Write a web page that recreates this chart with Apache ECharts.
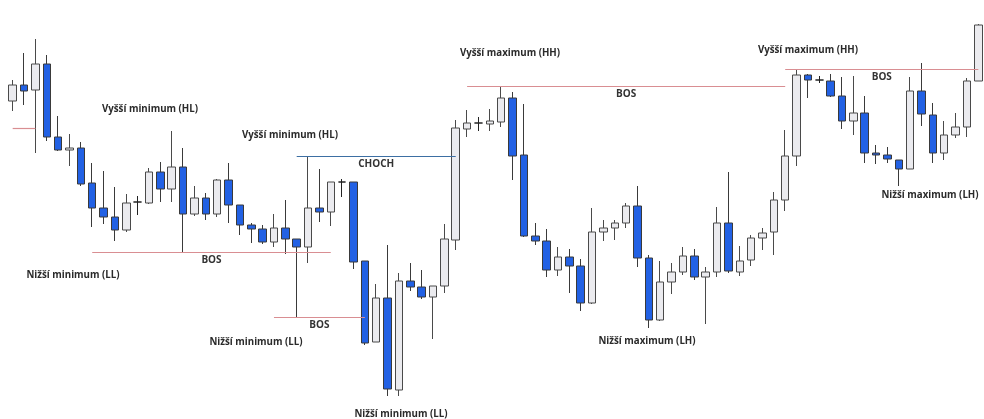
<!DOCTYPE html>
<html>
<head>
<meta charset="utf-8">
<title>Struktura trhu</title>
<script src="https://cdn.jsdelivr.net/npm/echarts@6/dist/echarts.min.js"></script>
<style>
  html, body { margin: 0; padding: 0; background: #fff; }
  #chart { width: 984px; height: 419px; }
</style>
</head>
<body>
<div id="chart"></div>
<script>
// svicky: open / close / low / high
const opens = [318, 334, 329, 355, 282, 269, 271, 236, 211, 202, 189, 217, 216, 247, 230, 252, 205, 221, 205, 239,
  214, 194, 190, 177, 191, 180, 172, 211, 207, 237, 237, 158, 77, 121, 29, 138, 132, 122, 133, 179,
  290, 296, 295, 297, 321, 264, 183, 178, 149, 162, 153, 116, 187, 191, 196, 213, 161, 99, 137, 147,
  163, 142, 147, 196, 147, 159, 181, 187, 219, 263, 344, 339, 338, 323, 298, 306, 266, 264, 259, 250,
  328, 304, 266, 284, 292, 338]
const closes = [334, 328, 355, 282, 269, 271, 235, 211, 202, 189, 216, 217, 247, 230, 252, 205, 221, 205, 239, 214,
  194, 190, 177, 191, 180, 172, 211, 207, 237, 237, 157, 76, 121, 30, 138, 132, 122, 133, 180, 291,
  296, 296, 298, 321, 263, 183, 178, 149, 162, 153, 116, 187, 191, 196, 213, 161, 99, 137, 147, 163,
  142, 147, 196, 148, 158, 181, 186, 219, 263, 344, 339, 339, 323, 298, 306, 266, 264, 260, 250, 328,
  305, 266, 284, 292, 338, 394]
const lows = [308, 314, 266, 278, 268, 253, 233, 192, 195, 178, 187, 204, 215, 217, 217, 167, 203, 199, 202, 196,
  184, 176, 175, 172, 165, 102, 156, 197, 193, 222, 150, 74, 77, 23, 23, 128, 120, 80, 126, 169,
  282, 288, 288, 292, 239, 182, 174, 142, 143, 126, 108, 115, 178, 179, 191, 152, 91, 98, 125, 144,
  139, 95, 142, 146, 143, 153, 169, 164, 208, 253, 321, 336, 322, 290, 284, 256, 255, 256, 233, 250,
  293, 256, 259, 281, 282, 338]
const highs = [339, 366, 380, 364, 303, 285, 277, 256, 248, 232, 225, 223, 251, 257, 288, 271, 233, 226, 240, 256,
  214, 196, 194, 205, 219, 180, 263, 250, 237, 240, 237, 158, 135, 174, 146, 156, 149, 133, 195, 299,
  309, 302, 310, 333, 327, 315, 196, 190, 172, 170, 160, 211, 199, 199, 216, 233, 164, 158, 156, 172,
  170, 152, 212, 247, 173, 184, 191, 227, 289, 349, 345, 343, 345, 342, 343, 323, 274, 272, 259, 342,
  356, 316, 298, 306, 341, 395]

const categories = opens.map((_, i) => 'S' + (i + 1))

// urovne: od svicky, do svicky, cena, popisek
const levelFrom = [0, 7, 23, 25, 40, 68]
const levelTo = [2, 28, 31, 39, 68, 85]
const levelPrice = [291, 167, 102, 263, 333, 350]
const levelLabel = ['', 'BOS', 'BOS', 'CHOCH', 'BOS', 'BOS']

// popisky struktury
const noteText = [
  'Vyšší minimum (HL)', 'Vyšší minimum (HL)', 'Nižší minimum (LL)', 'Nižší minimum (LL)',
  'Nižší minimum (LL)', 'Vyšší maximum (HH)', 'Nižší maximum (LH)', 'Vyšší maximum (HH)',
  'Nižší maximum (LH)'
]
const notePos = [[150, 109], [290, 135], [73, 275], [256, 342], [401, 414], [510, 53], [647, 341], [808, 50], [930, 195]]

const chart = echarts.init(document.getElementById('chart'))

const candles = opens.map((o, i) => [o, closes[i], lows[i], highs[i]])

const markData = levelFrom.map((f, i) => {
  const isChoch = levelLabel[i] === 'CHOCH'
  return [{
    coord: [f, levelPrice[i]],
    lineStyle: { color: isChoch ? '#3d6fa3' : '#d98e92', width: 1.2, type: 'solid' },
    label: {
      show: levelLabel[i] !== '',
      formatter: levelLabel[i],
      position: 'insideMiddleBottom',
      distance: 3,
      color: '#333',
      fontSize: 10,
      fontWeight: 'bold',
      fontFamily: 'Open Sans'
    }
  }, {
    coord: [levelTo[i], levelPrice[i]]
  }]
})

const option = {
  animation: false,
  backgroundColor: '#fff',
  grid: {
    left: 7,
    top: 0,
    width: 980,
    height: 419
  },
  xAxis: {
    type: 'category',
    data: categories,
    show: false
  },
  yAxis: {
    type: 'value',
    min: 0,
    max: 419,
    show: false
  },
  series: [{
    type: 'candlestick',
    data: candles,
    barWidth: 8,
    itemStyle: {
      color: '#ebebef',
      color0: '#2261e4',
      borderColor: '#4a4a4a',
      borderColor0: '#3a3a3a',
      borderColorDoji: '#222',
      borderWidth: 1
    },
    markLine: {
      silent: true,
      symbol: 'none',
      data: markData
    }
  }],
  graphic: noteText.map((t, i) => ({
    type: 'text',
    x: notePos[i][0],
    y: notePos[i][1],
    style: {
      text: t,
      align: 'center',
      verticalAlign: 'middle',
      fill: '#2a2a2a',
      font: 'bold 9.7px "Open Sans"'
    }
  }))
}

chart.setOption(option)
</script>
</body>
</html>
